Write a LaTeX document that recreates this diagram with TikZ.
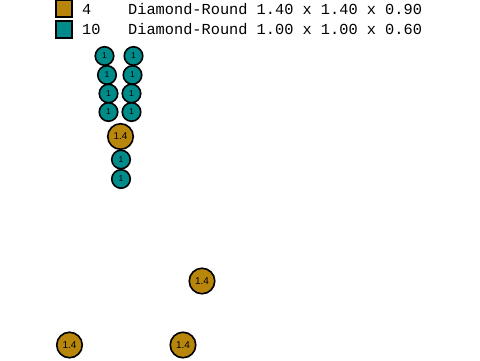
\documentclass[tikz,border=0pt]{standalone}
\usepackage{fontspec}
\setmainfont{Liberation Sans}
\newfontfamily\legendfont{Liberation Mono}
\definecolor{gold}{HTML}{B8860B}
\definecolor{teal2}{HTML}{008B8B}
\begin{document}
\begin{tikzpicture}[x=1pt,y=-1pt,
  small/.style={circle,draw=black,line width=1.6pt,fill=teal2,minimum size=18.5pt,inner sep=0pt,font=\fontsize{8.5}{8.5}\selectfont},
  big/.style={circle,draw=black,line width=1.6pt,fill=gold,minimum size=25.5pt,inner sep=0pt,font=\fontsize{10}{10}\selectfont},
  swatch/.style={draw=black,line width=1.6pt,minimum size=16.5pt,inner sep=0pt},
  legtext/.style={anchor=base west,inner sep=0pt,font=\legendfont\fontsize{15.3}{15.3}\selectfont}]
\useasboundingbox (0,0) rectangle (480,360);
% legend
\node[swatch,fill=gold] (sw1) at (64,8.5) {};
\node[swatch,fill=teal2] (sw2) at (64,29.5) {};
\node[legtext] (c1) at (82,14) {4};
\node[legtext] (d1) at (128,14) {Diamond-Round 1.40 x 1.40 x 0.90};
\node[legtext] (c2) at (82,34) {10};
\node[legtext] (d2) at (128,34) {Diamond-Round 1.00 x 1.00 x 0.60};
% cluster
\node[small] (l1) at (104.5,56) {1};
\node[small] (r1) at (133.5,56) {1};
\node[small] (l2) at (107,75) {1};
\node[small] (r2) at (132.5,75) {1};
\node[small] (l3) at (108.5,93.5) {1};
\node[small] (r3) at (131.5,93.5) {1};
\node[small] (l4) at (108.5,112) {1};
\node[small] (r4) at (131.5,112) {1};
\node[big] (b0) at (120.5,136.5) {1.4};
\node[small] (s1) at (121,159.5) {1};
\node[small] (s2) at (121,179) {1};
% loose stones
\node[big] (b1) at (202,281) {1.4};
\node[big] (b2) at (69.5,345) {1.4};
\node[big] (b3) at (183,345) {1.4};
\end{tikzpicture}
\end{document}
